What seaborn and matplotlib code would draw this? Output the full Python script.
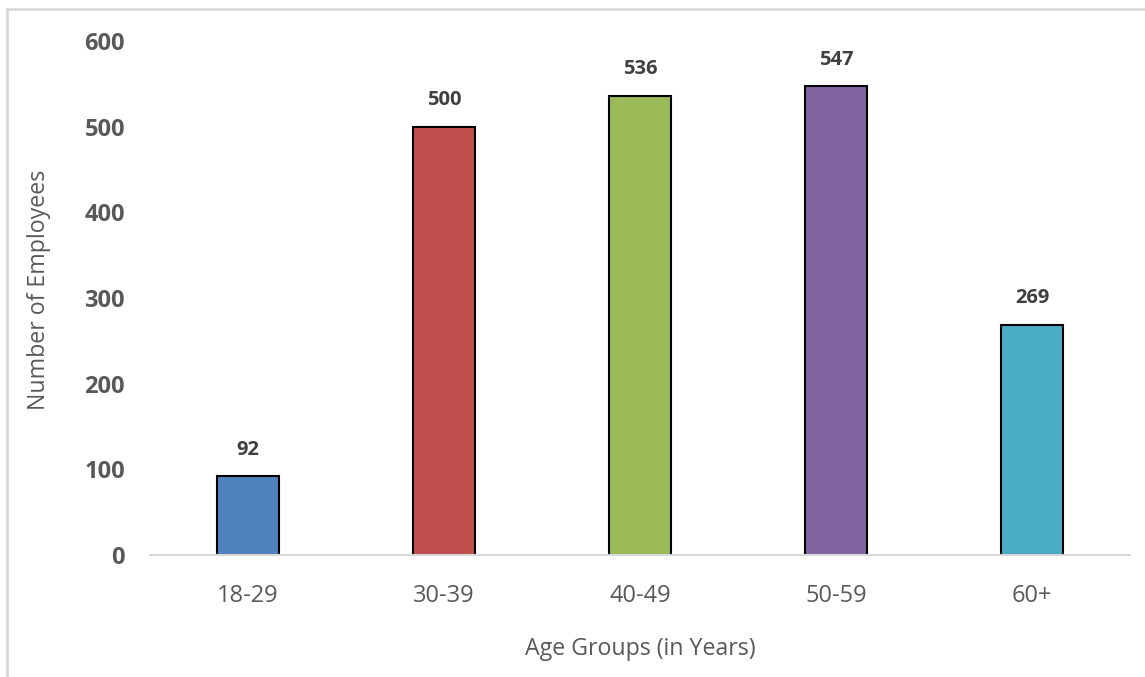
import matplotlib
matplotlib.use("Agg")
import matplotlib.pyplot as plt
import seaborn as sns
import pandas as pd
from matplotlib.lines import Line2D

categories = ["18-29", "30-39", "40-49", "50-59", "60+"]
employees = [92, 500, 536, 547, 269]
bar_colors = ["#4F81BD", "#C0504D", "#9BBB59", "#8064A2", "#4BACC6"]
y_ticks = [0, 100, 200, 300, 400, 500, 600]

sns.set_theme(style="white")
plt.rcParams["font.family"] = ["Open Sans", "DejaVu Sans"]

W, H = 1145, 677
fig = plt.figure(figsize=(W / 100, H / 100), dpi=100)
ax = fig.add_axes([150 / W, 1 - 555 / H, 980 / W, (555 - 41) / H])

df = pd.DataFrame({"Age": categories, "Employees": employees})
sns.barplot(data=df, x="Age", y="Employees", hue="Age", palette=bar_colors,
            legend=False, width=0.316, edgecolor="black", linewidth=1.5,
            saturation=1, ax=ax)

ax.set_ylim(0, 600)
ax.set_xlim(-0.5, len(categories) - 0.5)
ax.set_yticks(y_ticks)
ax.set_yticklabels([str(t) for t in y_ticks], fontsize=17, fontweight="bold", color="#595959")
ax.tick_params(axis="x", labelsize=17, labelcolor="#595959", length=0, pad=21)
ax.tick_params(axis="y", length=0, pad=18)

for s in ["top", "right", "left"]:
    ax.spines[s].set_visible(False)
ax.spines["bottom"].set_color("#D9D9D9")
ax.spines["bottom"].set_linewidth(1.5)

for cont in ax.containers:
    ax.bar_label(cont, fontsize=14.5, fontweight="bold", color="#404040", padding=12)

ax.set_xlabel("Age Groups (in Years)", fontsize=16.7, color="#595959", labelpad=21)
ax.set_ylabel("Number of Employees", fontsize=16.7, color="#595959", labelpad=24, y=0.515)

# outer border (top and left only, as in the reference crop)
fig.add_artist(Line2D([7 / W, 1], [1 - 9 / H, 1 - 9 / H], transform=fig.transFigure,
                      color="#D9D9D9", lw=2))
fig.add_artist(Line2D([7 / W, 7 / W], [0, 1 - 9 / H], transform=fig.transFigure,
                      color="#D9D9D9", lw=2))

fig.savefig("out.png", dpi=100)
